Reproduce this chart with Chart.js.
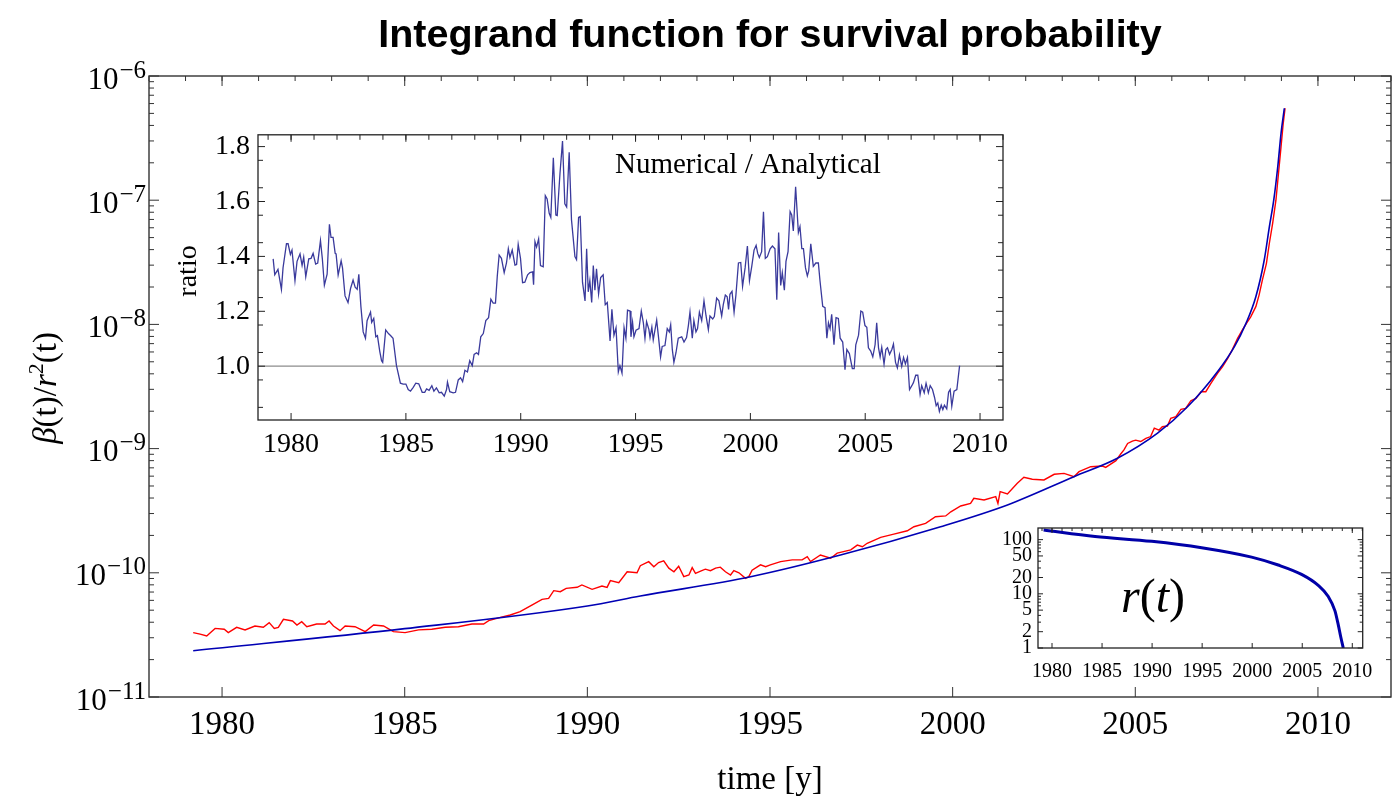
<!DOCTYPE html>
<html>
<head>
<meta charset="utf-8">
<script src="https://cdn.jsdelivr.net/npm/chart.js@4.4.1/dist/chart.umd.min.js"></script>
<style>
  html, body { margin: 0; padding: 0; background: #fff; }
  #wrap { position: relative; width: 1399px; height: 796px; overflow: hidden; }
  canvas { position: absolute; }
</style>
</head>
<body>
<div id="wrap">
  <canvas id="main" width="1399" height="796" style="left:0;top:0"></canvas>
  <canvas id="ratio" width="860" height="360" style="left:160px;top:110px"></canvas>
  <canvas id="rt" width="400" height="180" style="left:985px;top:510px"></canvas>
</div>
<script>
'use strict';

// ---- data ----
const xTicks = [1980, 1985, 1990, 1995, 2000, 2005, 2010];
const yTicksMain = [1e-11, 1e-10, 1e-9, 1e-8, 1e-7, 1e-6];
const ratioTicks = [1.0, 1.2, 1.4, 1.6, 1.8];
const rTicks = [1, 2, 5, 10, 20, 50, 100];

// analytical integrand (blue)
const anaYears = [1979.21, 1985.0, 1990.0, 1991.45, 1994.47, 1996.93, 1999.67, 2001.5, 2003.32, 2004.51,
  2005.61, 2006.43, 2007.25, 2007.71, 2008.03, 2008.30, 2008.53, 2008.67, 2008.79, 2008.90, 2008.99, 2009.08];
const anaVals = [2.36e-11, 3.55e-11, 5.41e-11, 6.5e-11, 9.3e-11, 1.39e-10, 2.35e-10, 3.52e-10, 5.94e-10, 8.35e-10,
  1.33e-9, 2.17e-9, 4.16e-9, 6.6e-9, 1.02e-8, 1.67e-8, 3.3e-8, 6.1e-8, 1.0e-7, 1.86e-7, 3.46e-7, 5.5e-7];

// numerical integrand (red)
const numYears = [1979.21, 1979.40, 1979.58, 1979.81, 1980.06, 1980.17, 1980.40, 1980.63, 1980.90, 1981.13,
  1981.29, 1981.43, 1981.54, 1981.68, 1981.93, 1982.05, 1982.18, 1982.32, 1982.59, 1982.82,
  1982.93, 1983.05, 1983.23, 1983.37, 1983.64, 1983.92, 1984.15, 1984.42, 1984.69, 1985.01,
  1985.38, 1985.74, 1986.11, 1986.47, 1986.84, 1987.16, 1987.30, 1987.62, 1987.89, 1988.16,
  1988.48, 1988.76, 1988.94, 1989.08, 1989.26, 1989.42, 1989.72, 1989.85, 1990.13, 1990.40,
  1990.54, 1990.63, 1990.86, 1991.09, 1991.36, 1991.45, 1991.68, 1991.82, 1991.95, 1992.09,
  1992.23, 1992.37, 1992.50, 1992.64, 1992.78, 1992.87, 1992.96, 1993.10, 1993.23, 1993.37,
  1993.51, 1993.64, 1993.78, 1993.92, 1994.01, 1994.15, 1994.33, 1994.42, 1994.51, 1994.74,
  1994.88, 1995.01, 1995.29, 1995.61, 1995.88, 1996.02, 1996.11, 1996.38, 1996.66, 1996.84,
  1997.21, 1997.39, 1997.53, 1997.66, 1998.03, 1998.39, 1998.76, 1998.94, 1999.26, 1999.53,
  1999.81, 1999.95, 2000.22, 2000.49, 2000.58, 2000.86, 2001.18, 2001.24, 2001.30, 2001.50,
  2001.77, 2001.95, 2002.18, 2002.50, 2002.78, 2003.05, 2003.32, 2003.46, 2003.78, 2004.10,
  2004.19, 2004.47, 2004.60, 2004.69, 2004.79, 2004.92, 2005.01, 2005.15, 2005.29, 2005.42,
  2005.52, 2005.65, 2005.74, 2005.88, 2005.97, 2006.11, 2006.25, 2006.38, 2006.52, 2006.66,
  2006.80, 2006.93, 2007.07, 2007.25, 2007.39, 2007.53, 2007.66, 2007.80, 2007.94, 2008.07,
  2008.16, 2008.30, 2008.39, 2008.48, 2008.59, 2008.67, 2008.76, 2008.85, 2008.92, 2008.99,
  2009.05, 2009.10];
const numVals = [3.30e-11, 3.21e-11, 3.10e-11, 3.57e-11, 3.51e-11, 3.30e-11, 3.64e-11, 3.47e-11, 3.73e-11, 3.64e-11,
  3.97e-11, 3.57e-11, 3.64e-11, 4.22e-11, 4.09e-11, 3.80e-11, 4.04e-11, 3.68e-11, 3.87e-11, 3.87e-11,
  4.09e-11, 3.73e-11, 3.42e-11, 3.73e-11, 3.68e-11, 3.36e-11, 3.80e-11, 3.73e-11, 3.36e-11, 3.30e-11,
  3.47e-11, 3.51e-11, 3.64e-11, 3.68e-11, 3.87e-11, 3.87e-11, 4.12e-11, 4.38e-11, 4.57e-11, 4.86e-11,
  5.50e-11, 6.11e-11, 6.23e-11, 7.18e-11, 7.05e-11, 7.50e-11, 7.64e-11, 7.98e-11, 7.36e-11, 7.83e-11,
  7.64e-11, 8.65e-11, 8.33e-11, 1.02e-10, 1.00e-10, 1.14e-10, 1.23e-10, 1.12e-10, 1.21e-10, 1.25e-10,
  1.09e-10, 1.02e-10, 1.13e-10, 9.31e-11, 9.60e-11, 1.10e-10, 9.90e-11, 1.03e-10, 1.07e-10, 1.04e-10,
  1.09e-10, 1.11e-10, 1.02e-10, 9.60e-11, 1.04e-10, 1.00e-10, 9.02e-11, 9.31e-11, 1.05e-10, 1.16e-10,
  1.12e-10, 1.16e-10, 1.23e-10, 1.27e-10, 1.27e-10, 1.35e-10, 1.23e-10, 1.39e-10, 1.31e-10, 1.44e-10,
  1.53e-10, 1.67e-10, 1.62e-10, 1.73e-10, 1.93e-10, 2.05e-10, 2.18e-10, 2.35e-10, 2.50e-10, 2.83e-10,
  2.87e-10, 3.10e-10, 3.45e-10, 3.62e-10, 3.98e-10, 3.86e-10, 4.10e-10, 3.62e-10, 4.50e-10, 4.31e-10,
  5.25e-10, 5.87e-10, 5.66e-10, 5.59e-10, 6.21e-10, 6.32e-10, 5.94e-10, 6.52e-10, 7.15e-10, 7.24e-10,
  7.06e-10, 8.00e-10, 9.04e-10, 9.75e-10, 1.10e-9, 1.15e-9, 1.17e-9, 1.14e-9, 1.21e-9, 1.25e-9,
  1.46e-9, 1.41e-9, 1.50e-9, 1.52e-9, 1.75e-9, 1.81e-9, 2.07e-9, 2.11e-9, 2.43e-9, 2.54e-9,
  2.87e-9, 2.87e-9, 3.35e-9, 4.04e-9, 4.57e-9, 5.33e-9, 6.30e-9, 7.73e-9, 9.12e-9, 1.05e-8,
  1.15e-8, 1.39e-8, 1.73e-8, 2.28e-8, 3.10e-8, 4.50e-8, 6.52e-8, 1.00e-7, 1.64e-7, 2.70e-7,
  4.16e-7, 5.50e-7];

// numerical / analytical ratio (inset)
const ratioYears = [1979.22, 1979.29, 1979.43, 1979.58, 1979.65, 1979.80, 1979.87, 1979.97, 1980.04, 1980.17,
  1980.26, 1980.39, 1980.48, 1980.55, 1980.64, 1980.77, 1980.87, 1980.96, 1981.07, 1981.16,
  1981.28, 1981.36, 1981.45, 1981.57, 1981.67, 1981.74, 1981.83, 1981.92, 1981.96, 1982.05,
  1982.18, 1982.24, 1982.35, 1982.48, 1982.59, 1982.70, 1982.79, 1982.88, 1982.95, 1983.04,
  1983.14, 1983.24, 1983.31, 1983.46, 1983.51, 1983.60, 1983.69, 1983.76, 1983.86, 1983.94,
  1983.99, 1984.12, 1984.24, 1984.34, 1984.44, 1984.59, 1984.76, 1984.88, 1985.00, 1985.10,
  1985.20, 1985.32, 1985.43, 1985.56, 1985.71, 1985.82, 1985.90, 1986.01, 1986.13, 1986.22,
  1986.33, 1986.45, 1986.55, 1986.67, 1986.77, 1986.81, 1986.91, 1987.06, 1987.16, 1987.28,
  1987.38, 1987.47, 1987.57, 1987.68, 1987.78, 1987.89, 1987.97, 1988.08, 1988.16, 1988.26,
  1988.37, 1988.48, 1988.60, 1988.70, 1988.80, 1988.90, 1988.98, 1989.06, 1989.16, 1989.28,
  1989.38, 1989.46, 1989.53, 1989.63, 1989.75, 1989.82, 1989.89, 1989.99, 1990.08, 1990.18,
  1990.30, 1990.40, 1990.52, 1990.56, 1990.62, 1990.69, 1990.78, 1990.86, 1990.98, 1991.07,
  1991.15, 1991.24, 1991.31, 1991.42, 1991.53, 1991.59, 1991.71, 1991.82, 1991.92, 1992.00,
  1992.11, 1992.21, 1992.36, 1992.43, 1992.52, 1992.59, 1992.69, 1992.80, 1992.87, 1992.94,
  1993.01, 1993.09, 1993.16, 1993.23, 1993.30, 1993.39, 1993.48, 1993.59, 1993.68, 1993.77,
  1993.89, 1993.97, 1994.06, 1994.15, 1994.25, 1994.32, 1994.41, 1994.50, 1994.58, 1994.65,
  1994.76, 1994.80, 1994.87, 1994.93, 1995.02, 1995.15, 1995.25, 1995.34, 1995.41, 1995.48,
  1995.58, 1995.63, 1995.71, 1995.77, 1995.92, 1995.99, 1996.09, 1996.16, 1996.28, 1996.38,
  1996.47, 1996.53, 1996.60, 1996.67, 1996.76, 1996.86, 1997.01, 1997.11, 1997.22, 1997.30,
  1997.37, 1997.47, 1997.54, 1997.63, 1997.70, 1997.78, 1997.88, 1997.98, 1998.07, 1998.17,
  1998.24, 1998.36, 1998.43, 1998.53, 1998.63, 1998.75, 1998.82, 1998.91, 1998.99, 1999.05,
  1999.11, 1999.20, 1999.29, 1999.37, 1999.48, 1999.58, 1999.66, 1999.77, 1999.87, 1999.96,
  2000.06, 2000.16, 2000.25, 2000.32, 2000.39, 2000.49, 2000.57, 2000.65, 2000.74, 2000.86,
  2000.96, 2001.07, 2001.15, 2001.23, 2001.32, 2001.39, 2001.48, 2001.55, 2001.64, 2001.73,
  2001.80, 2001.87, 2001.97, 2002.09, 2002.16, 2002.24, 2002.31, 2002.40, 2002.48, 2002.54,
  2002.63, 2002.74, 2002.85, 2002.96, 2003.03, 2003.15, 2003.25, 2003.33, 2003.40, 2003.47,
  2003.54, 2003.64, 2003.73, 2003.83, 2003.91, 2004.02, 2004.12, 2004.20, 2004.31, 2004.44,
  2004.52, 2004.59, 2004.71, 2004.81, 2004.89, 2004.99, 2005.07, 2005.14, 2005.24, 2005.33,
  2005.43, 2005.50, 2005.58, 2005.65, 2005.72, 2005.82, 2005.90, 2005.97, 2006.06, 2006.16,
  2006.23, 2006.32, 2006.40, 2006.49, 2006.59, 2006.67, 2006.75, 2006.84, 2006.93, 2007.03,
  2007.10, 2007.20, 2007.29, 2007.39, 2007.46, 2007.57, 2007.65, 2007.75, 2007.83, 2007.93,
  2008.02, 2008.09, 2008.16, 2008.23, 2008.31, 2008.38, 2008.45, 2008.55, 2008.63, 2008.70,
  2008.77, 2008.87, 2008.99, 2009.11];
const ratioVals = [1.391, 1.333, 1.353, 1.280, 1.358, 1.446, 1.446, 1.407, 1.423, 1.312,
  1.382, 1.409, 1.367, 1.397, 1.326, 1.391, 1.393, 1.411, 1.372, 1.376,
  1.458, 1.393, 1.295, 1.335, 1.517, 1.469, 1.469, 1.411, 1.409, 1.332,
  1.384, 1.358, 1.256, 1.232, 1.283, 1.314, 1.288, 1.280, 1.335, 1.218,
  1.125, 1.102, 1.166, 1.197, 1.160, 1.174, 1.107, 1.111, 1.055, 1.020,
  1.014, 1.132, 1.119, 1.111, 1.102, 1.002, 0.938, 0.935, 0.935, 0.915,
  0.909, 0.923, 0.938, 0.936, 0.905, 0.905, 0.917, 0.912, 0.929, 0.909,
  0.921, 0.903, 0.905, 0.891, 0.915, 0.942, 0.907, 0.903, 0.905, 0.950,
  0.958, 0.944, 0.985, 0.979, 1.020, 1.002, 1.043, 1.049, 1.043, 1.107,
  1.119, 1.166, 1.177, 1.244, 1.230, 1.230, 1.329, 1.405, 1.393, 1.341,
  1.376, 1.428, 1.396, 1.423, 1.368, 1.370, 1.444, 1.393, 1.304, 1.306,
  1.333, 1.341, 1.344, 1.297, 1.454, 1.434, 1.464, 1.367, 1.362, 1.621,
  1.609, 1.557, 1.542, 1.759, 1.551, 1.549, 1.703, 1.820, 1.592, 1.580,
  1.779, 1.534, 1.399, 1.388, 1.542, 1.545, 1.306, 1.238, 1.428, 1.271,
  1.312, 1.232, 1.367, 1.277, 1.355, 1.263, 1.323, 1.333, 1.224, 1.232,
  1.092, 1.207, 1.113, 1.140, 0.979, 1.002, 0.975, 1.140, 1.102, 1.204,
  1.201, 1.107, 1.160, 1.107, 1.131, 1.137, 1.201, 1.158, 1.102, 1.162,
  1.134, 1.104, 1.142, 1.096, 1.168, 1.113, 1.034, 1.072, 1.075, 1.137,
  1.125, 1.151, 1.061, 1.014, 1.049, 1.102, 1.107, 1.088, 1.104, 1.148,
  1.197, 1.102, 1.166, 1.125, 1.137, 1.197, 1.166, 1.238, 1.183, 1.133,
  1.183, 1.172, 1.181, 1.248, 1.238, 1.183, 1.224, 1.259, 1.253, 1.207,
  1.262, 1.273, 1.197, 1.259, 1.376, 1.378, 1.291, 1.358, 1.438, 1.312,
  1.364, 1.423, 1.440, 1.411, 1.396, 1.417, 1.563, 1.393, 1.399, 1.428,
  1.438, 1.428, 1.242, 1.487, 1.294, 1.341, 1.277, 1.382, 1.417, 1.563,
  1.551, 1.493, 1.654, 1.487, 1.508, 1.428, 1.428, 1.358, 1.329, 1.347,
  1.446, 1.364, 1.376, 1.376, 1.312, 1.218, 1.213, 1.102, 1.158, 1.137,
  1.189, 1.078, 1.177, 1.174, 1.102, 1.088, 0.987, 1.061, 1.046, 0.991,
  0.991, 1.078, 1.113, 1.201, 1.197, 1.148, 1.142, 1.067, 1.055, 1.034,
  1.078, 1.158, 1.067, 1.034, 1.069, 1.008, 1.061, 1.067, 1.043, 1.061,
  1.081, 1.014, 0.994, 1.041, 0.999, 1.032, 1.008, 1.032, 0.915, 0.929,
  0.940, 0.967, 0.967, 0.897, 0.929, 0.903, 0.938, 0.903, 0.929, 0.915,
  0.886, 0.856, 0.866, 0.835, 0.858, 0.842, 0.858, 0.845, 0.905, 0.915,
  0.854, 0.909, 0.915, 1.002];
const unityYears = [1978.56, 2011.0];
const unityVals = [1, 1];

// r(t) (small inset)
const rYears = [1979.16, 1984.3, 1989.96, 1994.95, 1999.94, 2002.6, 2004.93, 2006.6, 2007.6, 2008.26, 2008.6, 2008.86, 2009.1];
const rVals = [150, 114, 93, 71, 47.6, 34, 22.8, 14.3, 8.9, 4.9, 2.67, 1.56, 1.0];

// ---- helpers ----
const SERIF = "'Liberation Serif', 'Times New Roman', serif";
const pts = (xs, ys) => xs.map((x, i) => ({ x, y: ys[i] }));
const range = (a, b, s) => { const r = []; for (let v = a; v <= b + 1e-9; v += s) r.push(+v.toFixed(4)); return r; };
const logMinor = (e0, e1) => { const r = []; for (let e = e0; e <= e1; e++) for (let k = 2; k <= 9; k++) r.push(k * Math.pow(10, e)); return r; };
const fixTicks = (list) => (s) => { s.ticks = list.map((v) => ({ value: v })); };

function drawRich(ctx, parts, x, y) {
  let w = 0;
  parts.forEach((p) => { ctx.font = p.font; p.w = ctx.measureText(p.t).width; w += p.w; });
  let cx = x - w / 2;
  ctx.textAlign = 'left';
  ctx.textBaseline = 'alphabetic';
  parts.forEach((p) => { ctx.font = p.font; ctx.fillText(p.t, cx, y + (p.dy || 0)); cx += p.w; });
}

// frame with inward ticks on all four sides (Mathematica style)
const framePlugin = {
  id: 'frame',
  afterDatasetsDraw(chart, args, o) {
    const { ctx, chartArea: a, scales: { x, y } } = chart;
    ctx.save();
    ctx.strokeStyle = o.color;
    ctx.lineWidth = 1;
    ctx.beginPath();
    const vt = (list, len, atTop) => list.forEach((v) => {
      const p = x.getPixelForValue(v);
      if (p < a.left - 0.5 || p > a.right + 0.5) return;
      const y0 = atTop ? a.top : a.bottom;
      ctx.moveTo(p, y0);
      ctx.lineTo(p, atTop ? y0 + len : y0 - len);
    });
    const ht = (list, len) => list.forEach((v) => {
      const p = y.getPixelForValue(v);
      if (p < a.top - 0.5 || p > a.bottom + 0.5) return;
      ctx.moveTo(a.left, p); ctx.lineTo(a.left + len, p);
      ctx.moveTo(a.right, p); ctx.lineTo(a.right - len, p);
    });
    vt(o.bottom, o.major, false);
    vt(o.topMajor, o.major, true);
    vt(o.topMinor, o.minor, true);
    ht(o.yMajor, o.major);
    ht(o.yMinor, o.minor);
    ctx.stroke();
    ctx.lineWidth = o.width;
    ctx.strokeRect(a.left, a.top, a.right - a.left, a.bottom - a.top);
    ctx.restore();
  }
};
Chart.register(framePlugin);

Chart.defaults.font.family = SERIF;
Chart.defaults.color = '#000';
Chart.defaults.animation = false;
Chart.defaults.responsive = false;
Chart.defaults.plugins.legend.display = false;
Chart.defaults.plugins.tooltip.enabled = false;
Chart.defaults.elements.point.radius = 0;

const years = range(1978, 2012, 1);

// ---- main chart ----
new Chart(document.getElementById('main'), {
  type: 'line',
  data: {
    datasets: [
      { data: pts(anaYears, anaVals), borderColor: '#0000b4', borderWidth: 1.6, cubicInterpolationMode: 'monotone' },
      { data: pts(numYears, numVals), borderColor: '#ff0000', borderWidth: 1.4, tension: 0 }
    ]
  },
  options: {
    layout: { padding: { top: 76, right: 8, left: 0, bottom: 0 } },
    scales: {
      x: {
        type: 'linear', min: 1978, max: 2012,
        grid: { display: false, drawTicks: false }, border: { display: false },
        ticks: { font: { size: 33 }, padding: 9, maxRotation: 0, callback: (v) => String(v) },
        afterBuildTicks: fixTicks(xTicks),
        afterFit: (s) => { s.height = 99; }
      },
      y: {
        type: 'logarithmic', min: 1e-11, max: 1e-6,
        grid: { display: false, drawTicks: false }, border: { display: false },
        ticks: { display: false },
        afterBuildTicks: fixTicks(yTicksMain),
        afterFit: (s) => { s.width = 149; }
      }
    },
    plugins: {
      frame: {
        color: '#333', width: 1.4, major: 10, minor: 5,
        bottom: xTicks, topMajor: xTicks, topMinor: years,
        yMajor: yTicksMain, yMinor: logMinor(-11, -7)
      }
    }
  },
  plugins: [{
    id: 'mainText',
    afterDraw(chart) {
      const { ctx, chartArea: a, scales: { y } } = chart;
      ctx.save();
      ctx.fillStyle = '#000';
      // title, centred over the plot frame
      ctx.font = "bold 39.5px 'Liberation Sans', Arial, sans-serif";
      ctx.textAlign = 'center';
      ctx.textBaseline = 'alphabetic';
      ctx.fillText('Integrand function for survival probability', (a.left + a.right) / 2, 47);
      // y tick labels with raised exponents
      yTicksMain.forEach((v) => {
        const py = y.getPixelForValue(v);
        const exp = String(Math.round(Math.log10(v))).replace('-', '\u2212');
        ctx.textAlign = 'right';
        ctx.font = '25px ' + SERIF;
        const ew = ctx.measureText(exp).width;
        ctx.fillText(exp, 146, py + 1.5);
        ctx.font = '31px ' + SERIF;
        ctx.fillText('10', 146 - ew - 1, py + 12.5);
      });
      // x axis title
      ctx.font = '33px ' + SERIF;
      ctx.textAlign = 'center';
      ctx.fillText('time [y]', (a.left + a.right) / 2, 789);
      // y axis title
      ctx.translate(56, 388);
      ctx.rotate(-Math.PI / 2);
      drawRich(ctx, [
        { t: '\u03b2', font: 'italic 33px ' + SERIF },
        { t: '(t)/', font: '33px ' + SERIF },
        { t: 'r', font: 'italic 33px ' + SERIF },
        { t: '2', font: '22px ' + SERIF, dy: -13 },
        { t: '(t)', font: '33px ' + SERIF }
      ], 0, 0);
      ctx.restore();
    }
  }]
});

// ---- ratio inset ----
new Chart(document.getElementById('ratio'), {
  type: 'line',
  data: {
    datasets: [
      { data: pts(ratioYears, ratioVals), borderColor: '#3a3a9c', borderWidth: 1.3, tension: 0 },
      { data: pts(unityYears, unityVals), borderColor: '#8c8c8c', borderWidth: 1.2, tension: 0 }
    ]
  },
  options: {
    layout: { padding: { top: 13, right: 17, left: 0, bottom: 0 } },
    scales: {
      x: {
        type: 'linear', min: 1978.56, max: 2011.0,
        grid: { display: false, drawTicks: false }, border: { display: false },
        ticks: { font: { size: 28 }, padding: 8, maxRotation: 0, callback: (v) => String(v) },
        afterBuildTicks: fixTicks(xTicks),
        afterFit: (s) => { s.height = 50; }
      },
      y: {
        type: 'linear', min: 0.804, max: 1.843,
        grid: { display: false, drawTicks: false }, border: { display: false },
        ticks: { font: { size: 28 }, padding: 8, callback: (v) => v.toFixed(1) },
        afterBuildTicks: fixTicks(ratioTicks),
        afterFit: (s) => { s.width = 98; }
      }
    },
    plugins: {
      frame: {
        color: '#222', width: 1.3, major: 7, minor: 5,
        bottom: xTicks, topMajor: xTicks, topMinor: years,
        yMajor: ratioTicks, yMinor: range(0.85, 1.75, 0.1)
      }
    }
  },
  plugins: [{
    id: 'ratioText',
    beforeDraw(chart) {
      const { ctx, chartArea: a } = chart;
      ctx.save();
      ctx.fillStyle = '#fff';
      ctx.fillRect(a.left, a.top, a.right - a.left, a.bottom - a.top);
      ctx.restore();
    },
    afterDraw(chart) {
      const { ctx } = chart;
      ctx.save();
      ctx.fillStyle = '#000';
      ctx.font = '29px ' + SERIF;
      ctx.textAlign = 'left';
      ctx.textBaseline = 'alphabetic';
      ctx.fillText('Numerical / Analytical', 455, 63);
      ctx.translate(36, 161);
      ctx.rotate(-Math.PI / 2);
      ctx.font = '28px ' + SERIF;
      ctx.textAlign = 'center';
      ctx.fillText('ratio', 0, 0);
      ctx.restore();
    }
  }]
});

// ---- r(t) inset ----
new Chart(document.getElementById('rt'), {
  type: 'line',
  data: {
    datasets: [
      { data: pts(rYears, rVals), borderColor: '#0000a8', borderWidth: 3, cubicInterpolationMode: 'monotone' }
    ]
  },
  options: {
    layout: { padding: { top: 11, right: 22, left: 0, bottom: 0 } },
    scales: {
      x: {
        type: 'linear', min: 1978.6, max: 2011.04,
        grid: { display: false, drawTicks: false }, border: { display: false },
        ticks: { font: { size: 20 }, padding: 12, maxRotation: 0, autoSkip: false, callback: (v) => String(v) },
        afterBuildTicks: fixTicks(xTicks),
        afterFit: (s) => { s.height = 42; }
      },
      y: {
        type: 'logarithmic', min: 1, max: 164,
        grid: { display: false, drawTicks: false }, border: { display: false },
        ticks: { font: { size: 20 }, padding: 6, autoSkip: false, callback: (v) => String(v) },
        afterBuildTicks: fixTicks(rTicks),
        afterFit: (s) => { s.width = 53; }
      }
    },
    plugins: {
      frame: {
        color: '#222', width: 1.3, major: 5, minor: 3,
        bottom: xTicks, topMajor: xTicks, topMinor: years,
        yMajor: rTicks, yMinor: [3, 4, 6, 7, 8, 9, 30, 40, 60, 70, 80, 90]
      }
    }
  },
  plugins: [{
    id: 'rtText',
    beforeDraw(chart) {
      const { ctx, chartArea: a } = chart;
      ctx.save();
      ctx.fillStyle = '#fff';
      ctx.fillRect(a.left, a.top, a.right - a.left, a.bottom - a.top);
      ctx.restore();
    },
    afterDraw(chart) {
      const { ctx } = chart;
      ctx.save();
      ctx.fillStyle = '#000';
      drawRich(ctx, [
        { t: 'r', font: 'italic 48px ' + SERIF },
        { t: '(', font: '48px ' + SERIF },
        { t: 't', font: 'italic 48px ' + SERIF },
        { t: ')', font: '48px ' + SERIF }
      ], 168, 102);
      ctx.restore();
    }
  }]
});
</script>
</body>
</html>
